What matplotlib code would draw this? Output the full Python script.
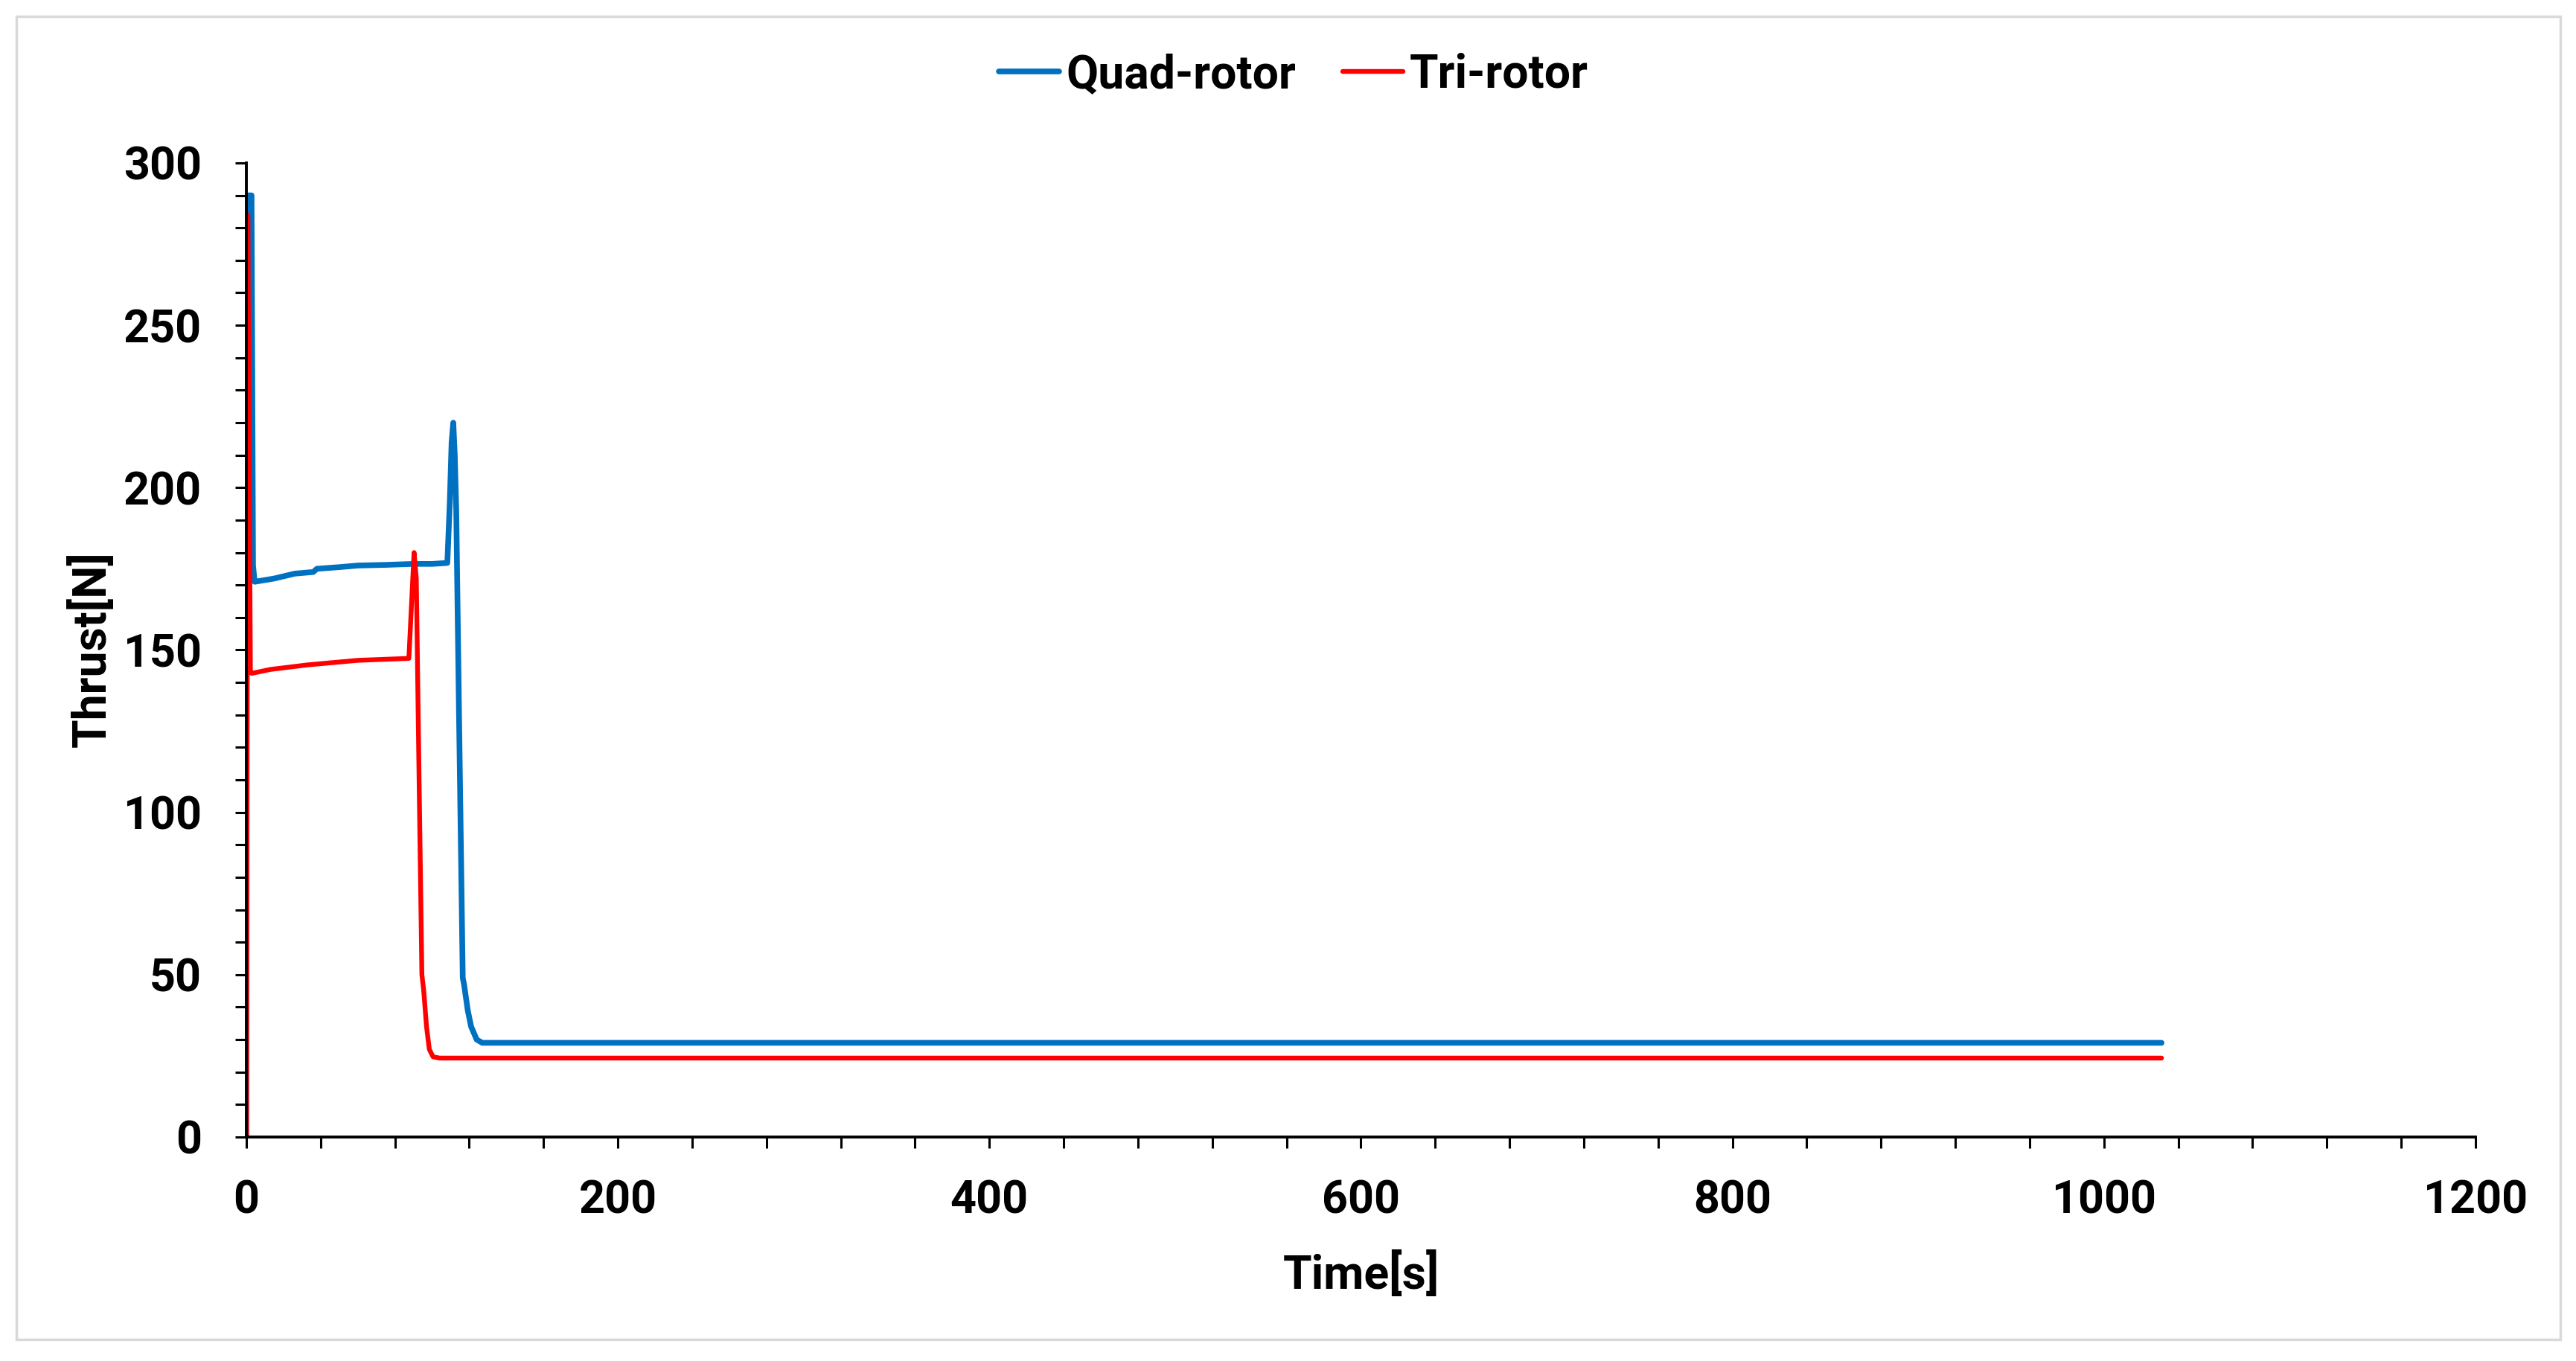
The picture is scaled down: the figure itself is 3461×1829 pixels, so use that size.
import matplotlib
matplotlib.use("Agg")
import matplotlib.pyplot as plt
from matplotlib.ticker import MultipleLocator
from matplotlib.patches import Rectangle

plt.rcParams['font.family'] = ['Liberation Sans Narrow', 'Roboto', 'DejaVu Sans']
plt.rcParams['font.weight'] = 'bold'

# Quad-rotor thrust [N] vs time [s]
quad_t = [0, 0.4, 2.8, 3.6, 4.5, 15, 26, 36, 38, 50, 60, 75, 90, 100, 108.2,
          109.5, 110.5, 111.4, 112.2, 113, 114.5, 116.5, 117.2, 119.2, 121,
          124, 127, 135, 200, 400, 600, 800, 1000, 1031]
quad_y = [0, 290, 290, 176, 171, 172, 173.5, 174, 175, 175.5, 176, 176.2, 176.5,
          176.5, 176.8, 195, 214, 220, 210, 193, 130, 49, 47, 39, 34,
          30, 29, 29, 29, 29, 29, 29, 29, 29]

# Tri-rotor thrust [N] vs time [s]
tri_t = [0, 0.8, 2.2, 3, 13, 33, 60, 87.5, 89, 90.3, 91.5, 93, 94.5, 95.5,
         97, 98.5, 100.5, 104, 200, 400, 600, 800, 1000, 1031]
tri_y = [0, 284, 143, 142.8, 144, 145.4, 146.8, 147.4, 165, 180, 172, 110, 50, 45,
         34, 27, 24.7, 24.3, 24.3, 24.3, 24.3, 24.3, 24.3, 24.3]

series_names = ["Quad-rotor", "Tri-rotor"]
x_label = "Time[s]"
y_label = "Thrust[N]"

fig = plt.figure(figsize=(34.62, 18.29), dpi=100)
ax = fig.add_axes([0.0956, 0.1646, 0.8651, 0.7157])

ax.plot(quad_t, quad_y, color='#0070C0', lw=5.5, label=series_names[0],
        solid_joinstyle='round', solid_capstyle='round')
ax.plot(tri_t, tri_y, color='#FF0000', lw=4.6, label=series_names[1],
        solid_joinstyle='round', solid_capstyle='round')

ax.set_xlim(0, 1200)
ax.set_ylim(0, 300)
ax.xaxis.set_major_locator(MultipleLocator(200))
ax.xaxis.set_minor_locator(MultipleLocator(40))
ax.yaxis.set_major_locator(MultipleLocator(50))
ax.yaxis.set_minor_locator(MultipleLocator(10))

for s in ['top', 'right']:
    ax.spines[s].set_visible(False)
for s in ['left', 'bottom']:
    ax.spines[s].set_linewidth(2.8)
    ax.spines[s].set_color('black')

ax.tick_params(which='both', direction='out', length=11, width=2.2, color='black')
ax.tick_params(axis='y', which='major', pad=32, labelsize=44)
ax.tick_params(axis='x', which='major', pad=30, labelsize=44)
for lab in ax.get_xticklabels() + ax.get_yticklabels():
    lab.set_fontweight('bold')

ax.set_xlabel(x_label, fontsize=45, fontweight='bold')
ax.set_ylabel(y_label, fontsize=45, fontweight='bold')
ax.xaxis.set_label_coords(0.5, -0.118)
ax.yaxis.set_label_coords(-0.059, 0.501)

leg = ax.legend(loc='center', bbox_to_anchor=(0.502, 0.945), bbox_transform=fig.transFigure,
                ncol=2, frameon=False, handlelength=1.3, handletextpad=0.15,
                columnspacing=1.0, prop={'size': 45, 'weight': 'bold'})

fig.patches.append(Rectangle((22/3462, 1-1800/1829), (3440-22)/3462, (1800-22)/1829,
                             transform=fig.transFigure, fill=False,
                             edgecolor='#D9D9D9', linewidth=2.5))

fig.savefig('out.png', dpi=100, facecolor='white')
